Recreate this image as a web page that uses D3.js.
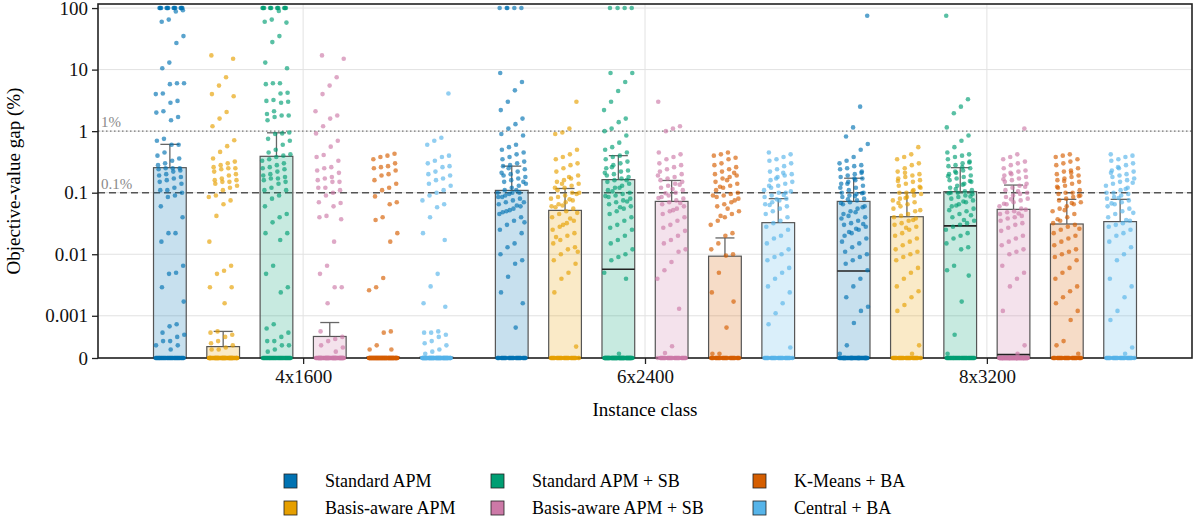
<!DOCTYPE html>
<html>
<head>
<meta charset="utf-8">
<script src="https://cdn.jsdelivr.net/npm/d3@7"></script>
<style>
  body { margin: 0; background: #fff; }
  svg, svg text { font-family: "Liberation Serif", "Times New Roman", Times, "DejaVu Serif", serif; }
</style>
</head>
<body>
<div id="chart"></div>
<script>
// Chart data.
var groups = ["4x1600", "6x2400", "8x3200"];
var methods = ["Standard APM", "Basis-aware APM", "Standard APM + SB",
               "Basis-aware APM + SB", "K-Means + BA", "Central + BA"];
var yTicks = [0, 0.001, 0.01, 0.1, 1, 10, 100];
var yTickLabels = ["0", "0.001", "0.01", "0.1", "1", "10", "100"];

// bar height, top of error bar and median per group / method
var barMean = [
  [0.255, 0.00027, 0.39, 0.00051, 0.00002, 0.00002],
  [0.109, 0.0516, 0.163, 0.0722, 0.0093, 0.0326],
  [0.0722, 0.0407, 0.104, 0.0536, 0.031, 0.0339]
];
var barUpper = [
  [0.61, 0.00063, 0.94, 0.00084, null, null],
  [0.27, 0.117, 0.40, 0.158, 0.0184, 0.08],
  [0.172, 0.10, 0.255, 0.133, 0.078, 0.078]
];
var barMedian = [
  [null, null, null, null, null, null],
  [null, null, 0.0057, null, null, null],
  [0.00535, null, 0.0289, 0.00008, null, null]
];
// number of runs with a gap of exactly zero
var zeroCounts = [
  [50, 80, 50, 80, 100, 90],
  [40, 40, 90, 40, 40, 40],
  [70, 40, 50, 110, 40, 40]
];

// non-zero gaps (%) per method
var gaps4x1600 = [
  [100, 100, 100, 100, 100, 100, 100, 100, 100, 100, 100, 100, 100, 100, 100, 100, 92, 88, 65, 60, 35, 27, 13, 10.5,
   6, 6, 5.8, 4.1, 4, 3.1, 2.9, 2.1, 2, 1.7, 1.5, 0.75, 0.7, 0.6, 0.6, 0.45, 0.4, 0.36, 0.33, 0.3, 0.28, 0.25, 0.25,
   0.25, 0.24, 0.23, 0.22, 0.2, 0.19, 0.18, 0.17, 0.16, 0.15, 0.14, 0.12, 0.11, 0.11, 0.1, 0.09, 0.085, 0.06, 0.04,
   0.022, 0.022, 0.016, 0.0065, 0.005, 0.0048, 0.0029, 0.0017, 0.0008, 0.00075, 0.0006, 0.00055, 0.0005, 0.0004,
   0.0004, 0.0003, 0.0003, 0.0002],
  [17, 15, 7.5, 5.5, 4, 3.7, 2.05, 1.6, 1.2, 0.71, 0.57, 0.46, 0.36, 0.32, 0.3, 0.28, 0.26, 0.25, 0.25, 0.24, 0.22,
   0.2, 0.19, 0.17, 0.16, 0.16, 0.15, 0.15, 0.14, 0.13, 0.12, 0.11, 0.09, 0.085, 0.075, 0.065, 0.042, 0.016, 0.0065,
   0.0054, 0.0048, 0.0029, 0.0029, 0.0016, 0.00063, 0.0006, 0.00055, 0.0005, 0.0004, 0.00035, 0.0003, 0.00025,
   0.0002, 0.0002],
  [100, 100, 100, 100, 100, 100, 100, 100, 100, 100, 100, 100, 100, 100, 90, 65, 60, 58, 35, 28, 13, 10.5, 6, 6,
   5.8, 4.2, 4.1, 3.2, 3.1, 3.0, 2.9, 2.1, 1.9, 1.8, 1.8, 1.7, 1.5, 0.95, 0.92, 0.9, 0.75, 0.7, 0.6, 0.5, 0.45, 0.42,
   0.4, 0.38, 0.35, 0.33, 0.3, 0.28, 0.26, 0.25, 0.24, 0.22, 0.2, 0.19, 0.18, 0.17, 0.17, 0.16, 0.15, 0.14, 0.12,
   0.11, 0.11, 0.09, 0.08, 0.06, 0.045, 0.04, 0.033, 0.022, 0.022, 0.017, 0.0065, 0.0048, 0.0029, 0.0024, 0.0008,
   0.0007, 0.0006, 0.0005, 0.0004, 0.0004, 0.0003, 0.0003, 0.0002, 0.00015],
  [17, 15, 7.5, 5.5, 4, 2.1, 1.8, 1.6, 1.2, 0.92, 0.7, 0.56, 0.41, 0.38, 0.33, 0.26, 0.25, 0.23, 0.21, 0.18, 0.17,
   0.16, 0.15, 0.15, 0.12, 0.12, 0.11, 0.1, 0.09, 0.07, 0.068, 0.06, 0.042, 0.04, 0.037, 0.016, 0.0065, 0.0048,
   0.0029, 0.0029, 0.0016, 0.00063, 0.0005, 0.00045, 0.0004, 0.0003, 0.00025, 0.00015],
  [0.43, 0.4, 0.38, 0.35, 0.3, 0.27, 0.26, 0.25, 0.23, 0.2, 0.19, 0.16, 0.14, 0.12, 0.11, 0.087, 0.07, 0.065, 0.04,
   0.036, 0.022, 0.016, 0.0041, 0.0029, 0.0026, 0.00063, 0.0006, 0.0003, 0.0002, 0.0002],
  [4.1, 0.78, 0.7, 0.6, 0.4, 0.38, 0.33, 0.3, 0.27, 0.26, 0.22, 0.2, 0.19, 0.17, 0.16, 0.14, 0.13, 0.11, 0.1, 0.09,
   0.075, 0.065, 0.058, 0.04, 0.022, 0.017, 0.0048, 0.003, 0.0016, 0.0014, 0.00063, 0.0006, 0.0006, 0.00055, 0.0005,
   0.0004, 0.00035, 0.0003, 0.0002, 0.00015, 0.0001]
];
var gaps6x2400 = [
  [100, 100, 100, 100, 100, 8.8, 6.3, 4.6, 3.0, 2.2, 1.6, 1.3, 1.1, 0.9, 0.85, 0.6, 0.55, 0.5, 0.45, 0.42, 0.38,
   0.35, 0.32, 0.3, 0.28, 0.27, 0.24, 0.22, 0.2, 0.19, 0.18, 0.17, 0.16, 0.15, 0.14, 0.13, 0.12, 0.11, 0.1, 0.1,
   0.1, 0.09, 0.085, 0.08, 0.075, 0.07, 0.065, 0.06, 0.055, 0.05, 0.045, 0.04, 0.035, 0.03, 0.025, 0.022, 0.015,
   0.013, 0.01, 0.008, 0.007, 0.0043, 0.0024, 0.0016, 0.00072, 0.25, 0.21, 0.15, 0.11, 0.095, 0.085, 0.07, 0.062,
   0.052, 0.048, 0.033],
  [3.0, 1.1, 0.95, 0.9, 0.5, 0.42, 0.38, 0.35, 0.3, 0.28, 0.25, 0.22, 0.19, 0.17, 0.16, 0.15, 0.14, 0.13, 0.12, 0.11,
   0.1, 0.1, 0.09, 0.085, 0.08, 0.075, 0.07, 0.065, 0.06, 0.055, 0.05, 0.045, 0.04, 0.035, 0.032, 0.028, 0.025,
   0.022, 0.02, 0.017, 0.015, 0.013, 0.012, 0.01, 0.008, 0.007, 0.005, 0.004, 0.0024, 0.00027, 0.18, 0.14, 0.12,
   0.095, 0.078, 0.062, 0.058, 0.047, 0.038, 0.03, 0.019, 0.011],
  [100, 100, 100, 100, 8.8, 8.8, 6.3, 4.5, 3.0, 2.2, 1.6, 1.4, 1.1, 1.0, 0.85, 0.65, 0.55, 0.5, 0.45, 0.4, 0.38,
   0.35, 0.32, 0.3, 0.28, 0.25, 0.23, 0.22, 0.2, 0.19, 0.18, 0.17, 0.16, 0.15, 0.14, 0.13, 0.12, 0.11, 0.1, 0.095,
   0.09, 0.085, 0.08, 0.075, 0.07, 0.065, 0.06, 0.055, 0.05, 0.045, 0.04, 0.035, 0.03, 0.027, 0.025, 0.02, 0.017,
   0.015, 0.012, 0.01, 0.009, 0.008, 0.005, 0.004, 0.0001, 0.26, 0.21, 0.16, 0.12, 0.105, 0.088, 0.072, 0.058],
  [3.0, 1.2, 1.1, 1.0, 0.45, 0.42, 0.38, 0.35, 0.3, 0.28, 0.26, 0.24, 0.22, 0.2, 0.18, 0.17, 0.16, 0.15, 0.14, 0.13,
   0.12, 0.11, 0.1, 0.09, 0.085, 0.08, 0.075, 0.07, 0.065, 0.06, 0.055, 0.05, 0.045, 0.04, 0.035, 0.03, 0.027, 0.024,
   0.02, 0.017, 0.015, 0.012, 0.011, 0.0075, 0.0055, 0.004, 0.0013, 0.00028, 0.00012, 0.19, 0.135, 0.115, 0.098,
   0.082, 0.068, 0.052],
  [0.45, 0.42, 0.4, 0.37, 0.35, 0.3, 0.28, 0.26, 0.24, 0.22, 0.2, 0.19, 0.18, 0.17, 0.15, 0.14, 0.13, 0.12, 0.11, 0.1,
   0.095, 0.09, 0.085, 0.08, 0.07, 0.065, 0.06, 0.05, 0.045, 0.04, 0.035, 0.03, 0.022, 0.02, 0.015, 0.012, 0.01,
   0.0095, 0.005, 0.0024, 0.0017, 0.00072, 0.0001, 0.0001, 0.21, 0.16, 0.125, 0.09, 0.075, 0.055, 0.042],
  [0.45, 0.42, 0.38, 0.35, 0.33, 0.3, 0.27, 0.24, 0.22, 0.2, 0.19, 0.18, 0.16, 0.15, 0.14, 0.13, 0.12, 0.11, 0.1, 0.1,
   0.09, 0.085, 0.08, 0.075, 0.07, 0.065, 0.06, 0.055, 0.05, 0.045, 0.04, 0.035, 0.032, 0.028, 0.025, 0.02, 0.018,
   0.015, 0.012, 0.01, 0.009, 0.008, 0.006, 0.005, 0.004, 0.003, 0.0024, 0.0016, 0.0011, 0.0008, 0.00025, 0.21,
   0.17, 0.13, 0.105, 0.092, 0.078, 0.063]
];
var gaps8x3200 = [
  [75, 2.5, 1.15, 0.82, 0.62, 0.5, 0.38, 0.33, 0.3, 0.28, 0.27, 0.25, 0.24, 0.22, 0.2, 0.19, 0.18, 0.17, 0.16, 0.15,
   0.14, 0.13, 0.12, 0.11, 0.1, 0.1, 0.095, 0.09, 0.085, 0.08, 0.075, 0.07, 0.065, 0.06, 0.055, 0.05, 0.045, 0.04,
   0.035, 0.032, 0.03, 0.028, 0.025, 0.022, 0.02, 0.018, 0.015, 0.013, 0.011, 0.01, 0.009, 0.008, 0.007, 0.0055,
   0.004, 0.003, 0.002, 0.0014, 0.0012, 0.00083, 0.0003, 0.0001, 0.21, 0.17, 0.14, 0.12, 0.098, 0.088, 0.078, 0.068,
   0.058, 0.048, 0.042, 0.038, 0.031, 0.026, 0.023, 0.016],
  [0.55, 0.42, 0.38, 0.35, 0.3, 0.28, 0.25, 0.22, 0.2, 0.19, 0.18, 0.17, 0.16, 0.15, 0.14, 0.13, 0.12, 0.11, 0.1, 0.1,
   0.095, 0.09, 0.085, 0.08, 0.075, 0.07, 0.065, 0.06, 0.055, 0.05, 0.045, 0.042, 0.04, 0.038, 0.035, 0.032, 0.03,
   0.028, 0.025, 0.022, 0.02, 0.018, 0.016, 0.014, 0.012, 0.011, 0.01, 0.009, 0.008, 0.006, 0.005, 0.004, 0.003,
   0.0025, 0.002, 0.0015, 0.0012, 0.0003, 0.0001, 0.21, 0.155, 0.125, 0.105, 0.082, 0.068, 0.052, 0.036, 0.027],
  [75, 3.3, 2.5, 1.95, 1.15, 0.85, 0.7, 0.55, 0.45, 0.42, 0.4, 0.38, 0.35, 0.32, 0.3, 0.28, 0.27, 0.25, 0.23, 0.21,
   0.2, 0.19, 0.18, 0.17, 0.16, 0.15, 0.14, 0.13, 0.12, 0.11, 0.105, 0.1, 0.1, 0.095, 0.09, 0.085, 0.08, 0.075, 0.07,
   0.065, 0.06, 0.055, 0.05, 0.045, 0.04, 0.035, 0.032, 0.03, 0.028, 0.025, 0.022, 0.02, 0.018, 0.015, 0.013, 0.012,
   0.0065, 0.0055, 0.0045, 0.0017, 0.00055, 0.0001, 0.31, 0.26, 0.22, 0.185, 0.155, 0.135, 0.115, 0.098, 0.087,
   0.072, 0.062, 0.052, 0.043, 0.036],
  [1.1, 0.42, 0.38, 0.35, 0.32, 0.3, 0.28, 0.25, 0.23, 0.22, 0.2, 0.19, 0.18, 0.17, 0.16, 0.15, 0.14, 0.13, 0.12,
   0.11, 0.1, 0.095, 0.09, 0.085, 0.08, 0.075, 0.07, 0.065, 0.06, 0.055, 0.05, 0.048, 0.045, 0.042, 0.04, 0.038,
   0.035, 0.032, 0.03, 0.027, 0.024, 0.02, 0.018, 0.016, 0.014, 0.012, 0.011, 0.01, 0.0065, 0.005, 0.004, 0.003,
   0.0012, 0.0003, 0.0001, 0.21, 0.165, 0.125, 0.105, 0.078, 0.066, 0.053, 0.046],
  [0.42, 0.4, 0.38, 0.35, 0.32, 0.3, 0.28, 0.25, 0.23, 0.22, 0.2, 0.19, 0.18, 0.17, 0.16, 0.15, 0.14, 0.13, 0.12,
   0.11, 0.1, 0.1, 0.095, 0.09, 0.085, 0.08, 0.075, 0.07, 0.065, 0.06, 0.055, 0.05, 0.045, 0.04, 0.035, 0.032, 0.03,
   0.028, 0.025, 0.022, 0.02, 0.018, 0.016, 0.014, 0.012, 0.011, 0.01, 0.009, 0.008, 0.006, 0.005, 0.004, 0.003,
   0.0025, 0.002, 0.0016, 0.0012, 0.0009, 0.0004, 0.0003, 0.0001, 0.21, 0.155, 0.125, 0.088, 0.068, 0.052, 0.037,
   0.026],
  [0.42, 0.4, 0.38, 0.35, 0.33, 0.3, 0.28, 0.25, 0.23, 0.22, 0.2, 0.19, 0.18, 0.17, 0.16, 0.15, 0.14, 0.13, 0.12,
   0.11, 0.1, 0.1, 0.095, 0.09, 0.085, 0.08, 0.075, 0.07, 0.065, 0.06, 0.055, 0.05, 0.045, 0.04, 0.035, 0.032, 0.03,
   0.028, 0.025, 0.022, 0.02, 0.016, 0.013, 0.01, 0.008, 0.004, 0.003, 0.002, 0.0012, 0.0009, 0.00025, 0.0001, 0.26,
   0.21, 0.145, 0.115, 0.082, 0.067, 0.047, 0.036]
];
var gapsByGroup = [gaps4x1600, gaps6x2400, gaps8x3200];
var refLines = [1, 0.1];
var refLabels = ["1%", "0.1%"];

var colors = ["#0072B2", "#E69F00", "#009E73", "#CC79A7", "#D55E00", "#56B4E9"];
var serif = "'Liberation Serif', 'Times New Roman', Times, 'DejaVu Serif', serif";

// Setup plot and window margins.
var margin = { top: 4, right: 6, bottom: 166, left: 98 };
var width = 1198 - margin.left - margin.right;
var height = 524 - margin.top - margin.bottom;

// Linear below 0.001, log above (symmetric-log style axis).
var linThresh = 0.001, linDecades = 0.686;
function symTransform(v) {
  return v <= linThresh ? v / linThresh * linDecades : linDecades + Math.log10(v / linThresh);
}

var xScale = d3.scaleLinear().domain([-0.6, 2.6]).range([0, width]);
var yScale = d3.scaleLinear()
  .domain([0, symTransform(100) + 0.066])
  .range([height, 0]);
function yPos(v) { return yScale(symTransform(v)); }

var inner = d3.scaleBand().domain(methods)
  .range([-159.9, 159.9])
  .paddingInner(0.386)
  .paddingOuter(0.193);
var bw = inner.bandwidth();
function barCenter(gi, mi) { return xScale(gi) + inner(methods[mi]) + bw / 2; }

var svg = d3.select("#chart").append("svg")
  .attr("width", 1198)
  .attr("height", 524)
  .attr("font-family", serif);
var g = svg.append("g")
  .attr("transform", "translate(" + margin.left + "," + margin.top + ")");

// Grid lines.
g.append("g").selectAll("line").data(yTicks).enter().append("line")
  .attr("x1", 0).attr("x2", width)
  .attr("y1", function(d) { return yPos(d); })
  .attr("y2", function(d) { return yPos(d); })
  .attr("stroke", "#e2e2e2").attr("stroke-width", 1);
g.append("g").selectAll("line").data(groups).enter().append("line")
  .attr("x1", function(d, i) { return xScale(i); })
  .attr("x2", function(d, i) { return xScale(i); })
  .attr("y1", 0).attr("y2", height)
  .attr("stroke", "#e2e2e2").attr("stroke-width", 1);

// Reference lines at 1% and 0.1%.
refLines.forEach(function(v, i) {
  g.append("line")
    .attr("x1", 0).attr("x2", width)
    .attr("y1", yPos(v)).attr("y2", yPos(v))
    .attr("stroke", i == 0 ? "#777" : "#555")
    .attr("stroke-width", i == 0 ? 1.3 : 1.6)
    .attr("stroke-dasharray", i == 0 ? "1.5,2.5" : "7,4");
  g.append("text")
    .attr("x", 3).attr("y", yPos(v) - 4)
    .style("font-size", "15px")
    .style("font-family", serif)
    .style("fill", "#8a8a8a")
    .text(refLabels[i]);
});

// Bars, medians, error bars.
groups.forEach(function(grp, gi) {
  methods.forEach(function(m, mi) {
    var cx = barCenter(gi, mi);
    var top = yPos(barMean[gi][mi]);
    g.append("rect")
      .attr("x", cx - bw / 2).attr("y", top)
      .attr("width", bw).attr("height", Math.max(height - top, 0.5))
      .attr("fill", colors[mi]).attr("fill-opacity", 0.22)
      .attr("stroke", "#555").attr("stroke-width", 1.2);
    if (barMedian[gi][mi] != null) {
      g.append("line")
        .attr("x1", cx - bw / 2).attr("x2", cx + bw / 2)
        .attr("y1", yPos(barMedian[gi][mi])).attr("y2", yPos(barMedian[gi][mi]))
        .attr("stroke", "#222").attr("stroke-width", 1.6);
    }
    if (barUpper[gi][mi] != null) {
      var up = yPos(barUpper[gi][mi]);
      g.append("line")
        .attr("x1", cx).attr("x2", cx).attr("y1", top).attr("y2", up)
        .attr("stroke", "#666").attr("stroke-width", 1.3);
      g.append("line")
        .attr("x1", cx - 9.5).attr("x2", cx + 9.5).attr("y1", up).attr("y2", up)
        .attr("stroke", "#666").attr("stroke-width", 1.3);
    }
  });
});

// Axes.
var yAxis = d3.axisLeft(yScale)
  .tickValues(yTicks.map(symTransform))
  .tickFormat(function(d, i) { return yTickLabels[i]; })
  .tickSize(6).tickPadding(4);
var xAxis = d3.axisBottom(xScale)
  .tickValues([0, 1, 2])
  .tickFormat(function(d) { return groups[d]; })
  .tickSize(6).tickPadding(6);

g.append("g").attr("class", "y_axis").call(yAxis);
g.append("g").attr("class", "x_axis")
  .attr("transform", "translate(0," + height + ")")
  .call(xAxis);
g.selectAll(".domain").remove();
g.selectAll(".y_axis, .x_axis").attr("font-family", serif).attr("font-size", 19);
g.selectAll(".tick line").attr("stroke", "#222").attr("stroke-width", 1.3);
g.selectAll(".tick text")
  .style("font-size", "19px")
  .style("font-family", serif)
  .attr("fill", "#111");

// Frame around the plot.
g.append("rect")
  .attr("x", 0).attr("y", 0).attr("width", width).attr("height", height)
  .attr("fill", "none").attr("stroke", "#222").attr("stroke-width", 1.6);

// Jittered points (deterministic low-discrepancy jitter).
function jitter(i, mi) { return ((i * 0.7548776662 + mi * 0.5698402910 + 0.13) % 1) - 0.5; }
groups.forEach(function(grp, gi) {
  methods.forEach(function(m, mi) {
    var cx = barCenter(gi, mi);
    var pts = [];
    for (var z = 0; z < zeroCounts[gi][mi]; z++) pts.push(0);
    gapsByGroup[gi][mi].forEach(function(v) { pts.push(v); });
    g.append("g").selectAll("circle").data(pts).enter().append("circle")
      .attr("cx", function(d, i) { return cx + jitter(i, mi) * bw * 0.88; })
      .attr("cy", function(d) { return yPos(d); })
      .attr("r", 2.3)
      .attr("fill", colors[mi])
      .attr("fill-opacity", 0.65);
  });
});

// Axis titles.
g.append("text")
  .attr("transform", "translate(" + (-78) + "," + (height / 2) + ") rotate(-90)")
  .style("text-anchor", "middle")
  .style("font-size", "19px")
  .style("font-family", serif)
  .text("Objective-value gap (%)");
g.append("text")
  .attr("x", width / 2).attr("y", height + 58)
  .style("text-anchor", "middle")
  .style("font-size", "19px")
  .style("font-family", serif)
  .text("Instance class");

// Legend: three columns, two rows.
var legendCols = [284, 491, 753];
var legendRows = [481, 508];
var legend = svg.append("g").attr("class", "legend");
methods.forEach(function(m, mi) {
  var col = Math.floor(mi / 2), row = mi % 2;
  var lx = legendCols[col], ly = legendRows[row];
  legend.append("rect")
    .attr("x", lx).attr("y", ly - 7)
    .attr("width", 13).attr("height", 14)
    .attr("fill", colors[mi])
    .attr("stroke", "#222").attr("stroke-width", 0.8);
  legend.append("text")
    .attr("x", lx + 41).attr("y", ly)
    .attr("dy", "0.35em")
    .style("font-size", "18px")
    .style("font-family", serif)
    .text(m);
});
</script>
</body>
</html>
